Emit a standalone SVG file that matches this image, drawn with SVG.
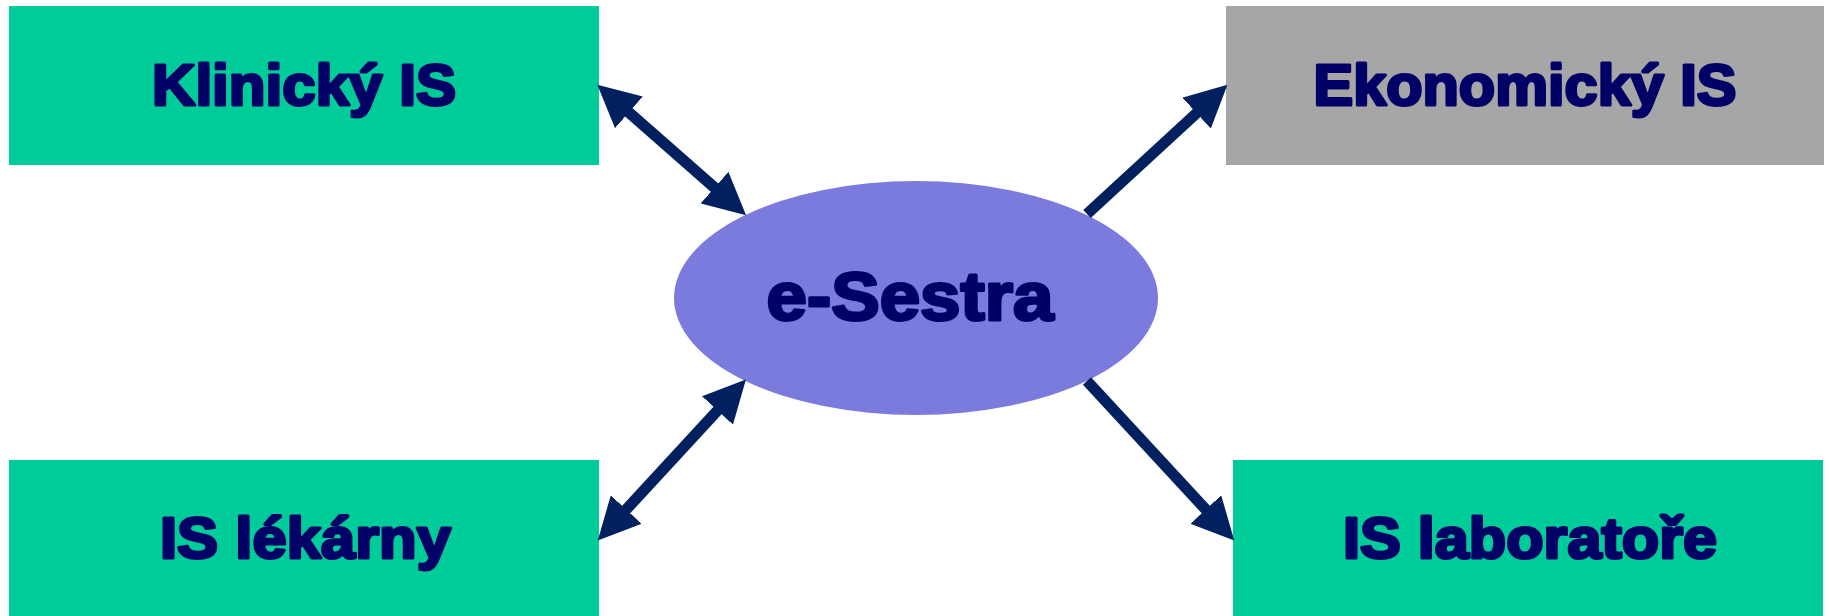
<svg xmlns="http://www.w3.org/2000/svg" width="1829" height="616" viewBox="0 0 1829 616">
<style>
.box{fill:#00CC99}
.gray{fill:#A6A6A6}
.ell{fill:#7B7BDE}
.lbl{font-family:"Liberation Sans",Arial,sans-serif;font-weight:bold;fill:#000066;stroke:#000066;stroke-width:3;stroke-linejoin:round;text-anchor:middle}
.con{stroke:#002060;stroke-width:11;fill:none}
</style>
<defs>
<marker id="ah" markerUnits="userSpaceOnUse" markerWidth="42" markerHeight="42" viewBox="0 0 40 40" refX="2" refY="20" orient="auto-start-reverse">
<path d="M0,0 L40,20 L0,40 Z" fill="#002060"/>
</marker>
</defs>
<rect width="1829" height="616" fill="#ffffff"/>
<g id="klinicky">
<rect class="box" x="9" y="6" width="590" height="159"/>
<text class="lbl" x="304" y="105" font-size="57" textLength="304" lengthAdjust="spacingAndGlyphs">Klinický IS</text>
</g>
<g id="ekonomicky">
<rect class="gray" x="1226" y="6" width="598" height="159"/>
<text class="lbl" x="1525" y="105" font-size="57" textLength="423" lengthAdjust="spacingAndGlyphs">Ekonomický IS</text>
</g>
<g id="lekarny">
<rect class="box" x="9" y="460" width="590" height="156"/>
<text class="lbl" x="305.5" y="558" font-size="57" textLength="291" lengthAdjust="spacingAndGlyphs">IS lékárny</text>
</g>
<g id="laboratore">
<rect class="box" x="1233" y="460" width="590" height="156"/>
<text class="lbl" x="1530" y="558" font-size="57" textLength="374" lengthAdjust="spacingAndGlyphs">IS laboratoře</text>
</g>
<g id="esestra">
<ellipse class="ell" cx="916" cy="298" rx="242" ry="117"/>
<text class="lbl" x="910" y="320" font-size="68" textLength="287" lengthAdjust="spacingAndGlyphs">e-Sestra</text>
</g>
<g id="connectors">
<line class="con" x1="627.3" y1="111" x2="716.1" y2="189" marker-start="url(#ah)" marker-end="url(#ah)"/>
<line class="con" x1="1087" y1="214" x2="1198.1" y2="111.7" marker-end="url(#ah)"/>
<line class="con" x1="624.8" y1="511.1" x2="718.9" y2="408.9" marker-start="url(#ah)" marker-end="url(#ah)"/>
<line class="con" x1="1087" y1="381" x2="1207.2" y2="511.1" marker-end="url(#ah)"/>
</g>
</svg>
